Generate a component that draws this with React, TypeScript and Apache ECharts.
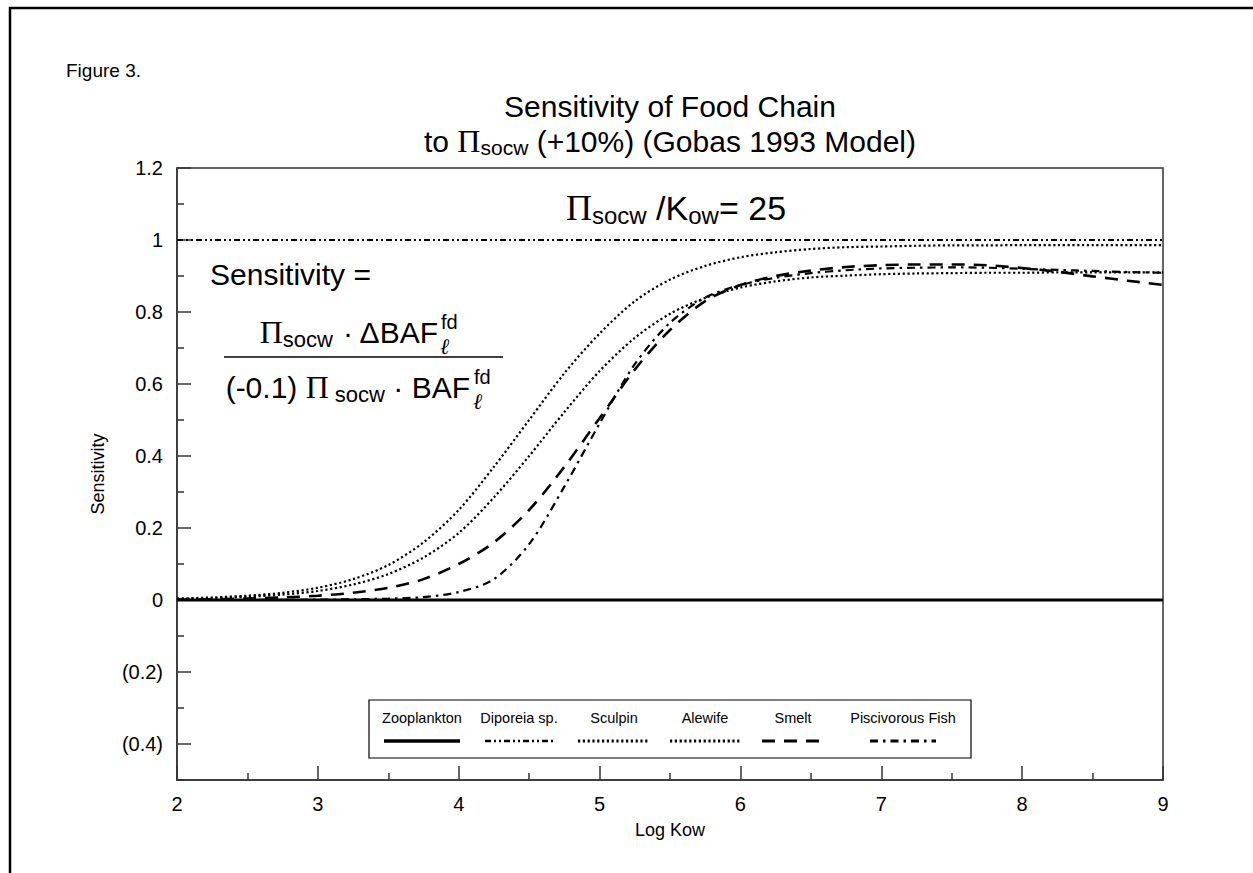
import React, { useEffect, useRef } from "react";
import * as echarts from "echarts";

// ---------- data ----------
const logKow = [2, 2.25, 2.5, 2.75, 3, 3.25, 3.5, 3.75, 4, 4.25, 4.5, 4.75, 5, 5.25, 5.5, 5.75, 6, 6.25, 6.5, 6.75, 7, 7.25, 7.5, 7.75, 8, 8.25, 8.5, 8.75, 9];

const zooplankton = [0, 0, 0, 0, 0, 0, 0, 0, 0, 0, 0, 0, 0, 0, 0, 0, 0, 0, 0, 0, 0, 0, 0, 0, 0, 0, 0, 0, 0];
const diporeia = [1, 1, 1, 1, 1, 1, 1, 1, 1, 1, 1, 1, 1, 1, 1, 1, 1, 1, 1, 1, 1, 1, 1, 1, 1, 1, 1, 1, 1];
const sculpin = [0.004, 0.007, 0.012, 0.02, 0.034, 0.058, 0.097, 0.16, 0.25, 0.37, 0.5, 0.63, 0.74, 0.83, 0.89, 0.928, 0.952, 0.966, 0.975, 0.98, 0.982, 0.984, 0.985, 0.985, 0.986, 0.986, 0.986, 0.986, 0.986];
const alewife = [0.003, 0.005, 0.009, 0.015, 0.025, 0.043, 0.072, 0.118, 0.186, 0.285, 0.4, 0.522, 0.636, 0.728, 0.795, 0.839, 0.868, 0.885, 0.896, 0.901, 0.905, 0.907, 0.908, 0.909, 0.909, 0.91, 0.91, 0.91, 0.91];
const smelt = [0.001, 0.002, 0.004, 0.007, 0.012, 0.02, 0.034, 0.058, 0.1, 0.16, 0.25, 0.37, 0.505, 0.64, 0.75, 0.83, 0.875, 0.9, 0.915, 0.925, 0.93, 0.932, 0.932, 0.93, 0.922, 0.912, 0.899, 0.887, 0.875];
const piscivorousFish = [0, 0, 0, 0.0005, 0.001, 0.002, 0.004, 0.008, 0.022, 0.058, 0.155, 0.315, 0.49, 0.655, 0.77, 0.84, 0.875, 0.895, 0.908, 0.916, 0.921, 0.923, 0.924, 0.923, 0.92, 0.917, 0.914, 0.911, 0.909];

const seriesNames = ["Zooplankton", "Diporeia sp.", "Sculpin", "Alewife", "Smelt", "Piscivorous Fish"];
const seriesValues = [zooplankton, diporeia, sculpin, alewife, smelt, piscivorousFish];

const xTicks = [2, 3, 4, 5, 6, 7, 8, 9];
const yMajorTicks = [-0.4, -0.2, 0, 0.2, 0.4, 0.6, 0.8, 1, 1.2];
const yMinorTicks = [-0.5, -0.3, -0.1, 0.1, 0.3, 0.5, 0.7, 0.9, 1.1];

// ---------- styles ----------
const SANS = '"Liberation Sans", Arial, Helvetica, sans-serif';
const SERIF = '"Liberation Serif", "Times New Roman", serif';
const AXIS_COLOR = "#333";

const lineStyles: any[] = [
  { width: 3, type: "solid" },
  { width: 2, type: [6, 3, 2, 3, 2, 3] },
  { width: 2.2, type: [2.2, 2.6] },
  { width: 2.2, type: [2.2, 2.6] },
  { width: 2.6, type: [13, 9] },
  { width: 2.2, type: [8, 5, 2.5, 5] },
];

// legend layout (pixel positions of the drawn legend box)
const legendBox = { x: 369, y: 700, w: 602, h: 58 };
const legendCenters = [422, 519, 614, 705, 793, 903];
const legendHalfWidths = [38, 34, 36, 35, 31, 33];

function fmtY(v: number) {
  const r = Math.round(v * 10) / 10;
  if (r < 0) return "(" + Math.abs(r).toFixed(1) + ")";
  if (r === 0) return "0";
  if (r === 1) return "1";
  return r.toFixed(1);
}

function buildGraphic() {
  const els: any[] = [];
  // outer frame
  els.push({
    type: "polyline",
    shape: { points: [[10, 873], [10, 8], [1253, 8]] },
    style: { stroke: "#000", lineWidth: 2.5, fill: null },
    silent: true,
  });
  els.push({
    type: "text", x: 66, y: 70,
    style: { text: "Figure 3.", font: `19px ${SANS}`, fill: "#000", align: "left", verticalAlign: "middle" },
  });
  // title
  els.push({
    type: "text", x: 670, y: 106,
    style: { text: "Sensitivity of Food Chain", font: `30px ${SANS}`, fill: "#000", align: "center", verticalAlign: "middle" },
  });
  els.push({
    type: "text", x: 670, y: 141,
    style: {
      text: "{n|to }{pi|Π}{s|socw}{n| (+10%) (Gobas 1993 Model)}",
      align: "center", verticalAlign: "middle", fill: "#000",
      rich: {
        n: { fontSize: 30, fontFamily: SANS, lineHeight: 34, fill: "#000" },
        pi: { fontSize: 32, fontFamily: SERIF, lineHeight: 34, fill: "#000" },
        s: { fontSize: 21, fontFamily: SANS, lineHeight: 21, verticalAlign: "bottom", fill: "#000" },
      },
    },
  });
  // annotation ratio
  els.push({
    type: "text", x: 566, y: 208,
    style: {
      text: "{pi|Π}{s|socw}{n| /K}{s|ow}{n|= 25}",
      align: "left", verticalAlign: "middle", fill: "#000",
      rich: {
        n: { fontSize: 34, fontFamily: SANS, lineHeight: 39, fill: "#000" },
        pi: { fontSize: 36, fontFamily: SERIF, lineHeight: 39, fill: "#000" },
        s: { fontSize: 24, fontFamily: SANS, lineHeight: 24, verticalAlign: "bottom", fill: "#000" },
      },
    },
  });
  // formula
  els.push({
    type: "text", x: 210, y: 274,
    style: { text: "Sensitivity =", font: `30px ${SANS}`, fill: "#000", align: "left", verticalAlign: "middle" },
  });
  const fracRich = {
    n: { fontSize: 30, fontFamily: SANS, lineHeight: 36, fill: "#000" },
    pi: { fontSize: 32, fontFamily: SERIF, lineHeight: 36, fill: "#000" },
    s: { fontSize: 22, fontFamily: SANS, lineHeight: 22, verticalAlign: "bottom", fill: "#000" },
  };
  els.push({
    type: "text", x: 438, y: 332,
    style: { text: "{pi|Π}{s|socw}{n| · ΔBAF}", align: "right", verticalAlign: "middle", fill: "#000", rich: fracRich },
  });
  els.push({ type: "text", x: 441, y: 322, style: { text: "fd", font: `20px ${SANS}`, fill: "#000", align: "left", verticalAlign: "middle" } });
  els.push({ type: "text", x: 440, y: 346, style: { text: "ℓ", font: `italic 22px ${SERIF}`, fill: "#000", align: "left", verticalAlign: "middle" } });
  els.push({
    type: "line", shape: { x1: 224, y1: 357, x2: 503, y2: 357 },
    style: { stroke: "#000", lineWidth: 1.6 }, silent: true,
  });
  els.push({
    type: "text", x: 470, y: 387,
    style: { text: "{n|(-0.1) }{pi|Π}{s| socw}{n| · BAF}", align: "right", verticalAlign: "middle", fill: "#000", rich: fracRich },
  });
  els.push({ type: "text", x: 474, y: 377, style: { text: "fd", font: `20px ${SANS}`, fill: "#000", align: "left", verticalAlign: "middle" } });
  els.push({ type: "text", x: 473, y: 401, style: { text: "ℓ", font: `italic 22px ${SERIF}`, fill: "#000", align: "left", verticalAlign: "middle" } });

  // legend
  els.push({
    type: "rect",
    shape: { x: legendBox.x, y: legendBox.y, width: legendBox.w, height: legendBox.h },
    style: { stroke: "#000", lineWidth: 1.2, fill: "#fff" },
    silent: true, z: 10,
  });
  seriesNames.forEach((name, i) => {
    const cx = legendCenters[i];
    els.push({
      type: "text", x: cx, y: legendBox.y + 18, z: 11,
      style: { text: name, font: `14.5px ${SANS}`, fill: "#000", align: "center", verticalAlign: "middle" },
    });
    const ls = lineStyles[i];
    els.push({
      type: "line", z: 11,
      shape: { x1: cx - legendHalfWidths[i], y1: legendBox.y + 41, x2: cx + legendHalfWidths[i], y2: legendBox.y + 41 },
      style: { stroke: "#000", lineWidth: ls.width + 0.6, lineDash: Array.isArray(ls.type) ? ls.type : null },
      silent: true,
    });
  });
  return els;
}

export default function App() {
  const ref = useRef<HTMLDivElement>(null);
  useEffect(() => {
    if (!ref.current) return;
    const chart = echarts.init(ref.current, null, { renderer: "svg" });
    const series = seriesNames.map((name, i) => ({
      type: "line",
      name,
      data: logKow.map((x, j) => [x, seriesValues[i][j]]),
      showSymbol: false,
      smooth: i >= 2 ? 0.3 : false,
      silent: true,
      z: 3,
      lineStyle: { color: "#000", width: lineStyles[i].width, type: lineStyles[i].type, cap: "butt" },
    }));
    chart.setOption({
      animation: false,
      backgroundColor: "#fff",
      grid: { left: 177, right: 90, top: 168, bottom: 93, show: true, borderColor: AXIS_COLOR, borderWidth: 1.5, backgroundColor: "transparent" },
      xAxis: {
        type: "value",
        min: 2, max: 9, interval: 1,
        name: "Log Kow",
        nameLocation: "middle",
        nameGap: 41,
        nameTextStyle: { fontSize: 18, fontFamily: SANS, color: "#000" },
        axisLine: { show: true, onZero: false, lineStyle: { color: AXIS_COLOR, width: 1.5 } },
        axisTick: { show: true, inside: true, length: 14, lineStyle: { color: AXIS_COLOR, width: 1.5 } },
        minorTick: { show: true, splitNumber: 2, length: 7, lineStyle: { color: AXIS_COLOR, width: 1.5 } },
        splitLine: { show: false },
        axisLabel: { fontSize: 20, fontFamily: SANS, color: "#000", margin: 14, customValues: xTicks },
      },
      yAxis: [
        {
          type: "value",
          min: -0.5, max: 1.2,
          name: "Sensitivity",
          nameLocation: "middle",
          nameGap: 70,
          nameTextStyle: { fontSize: 18, fontFamily: SANS, color: "#000" },
          axisLine: { show: true, onZero: false, lineStyle: { color: AXIS_COLOR, width: 1.5 } },
          axisTick: { show: true, inside: true, length: 14, customValues: yMajorTicks, lineStyle: { color: AXIS_COLOR, width: 1.5 } },
          splitLine: { show: false },
          axisLabel: { fontSize: 20, fontFamily: SANS, color: "#000", margin: 14, customValues: yMajorTicks, formatter: (v: number) => fmtY(v) },
        },
        {
          type: "value",
          position: "left",
          min: -0.5, max: 1.2,
          axisLine: { show: false },
          axisTick: { show: true, inside: true, length: 7, customValues: yMinorTicks, lineStyle: { color: AXIS_COLOR, width: 1.5 } },
          splitLine: { show: false },
          axisLabel: { show: false },
        },
      ],
      series,
      graphic: buildGraphic(),
    });
    return () => chart.dispose();
  }, []);
  return <div ref={ref} style={{ position: "absolute", left: 0, top: 0, width: 1253, height: 873 }} />;
}
